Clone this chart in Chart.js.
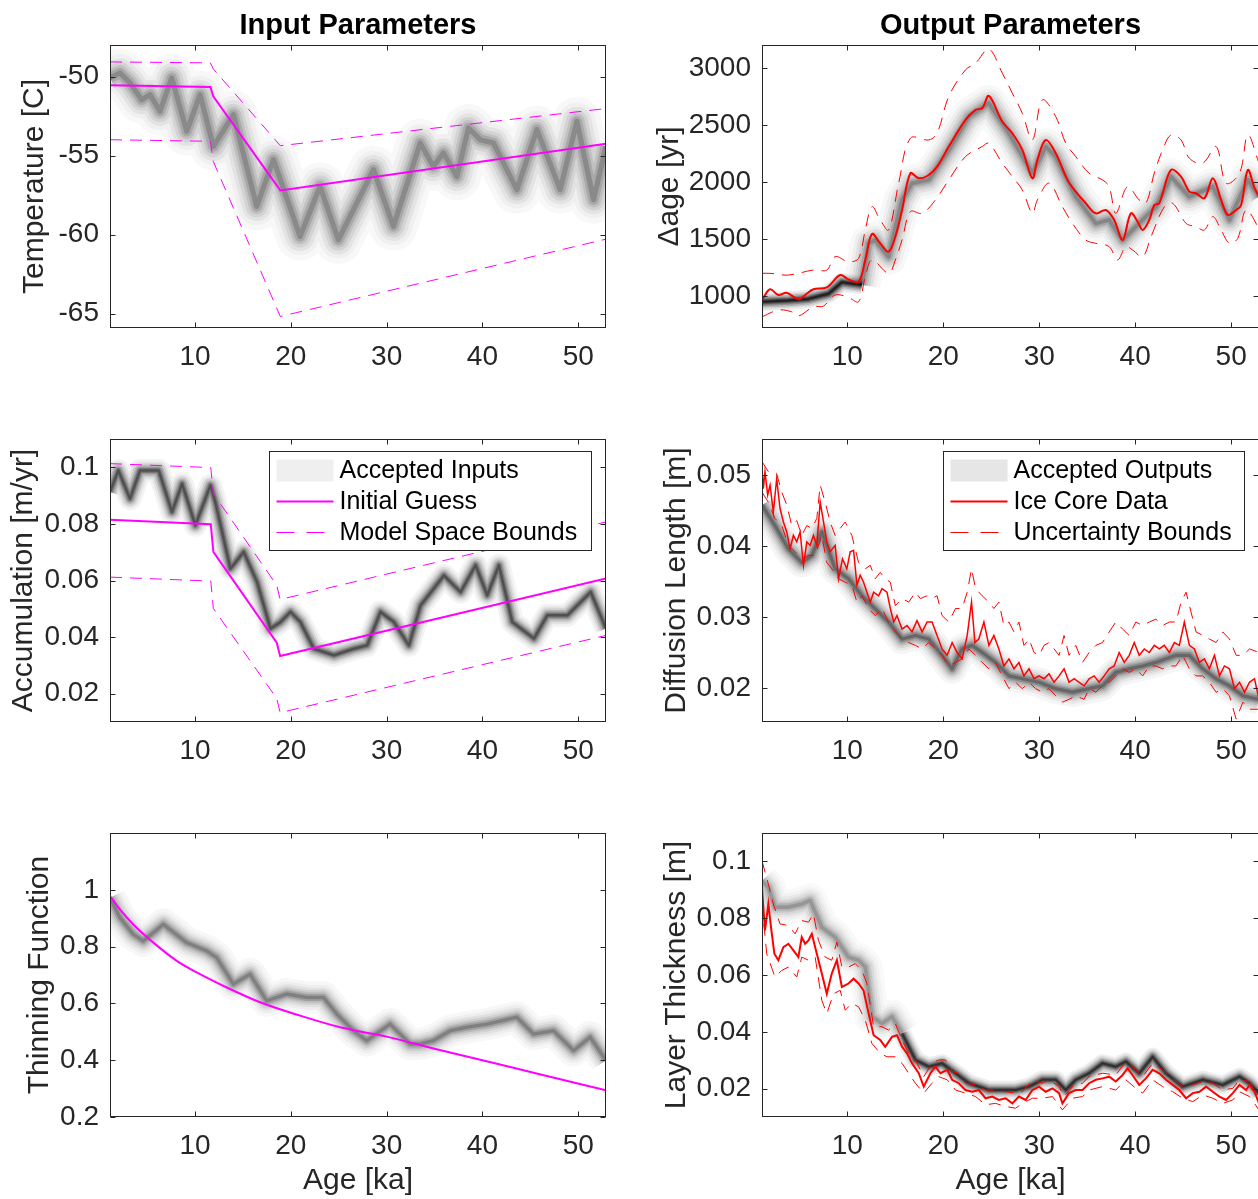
<!DOCTYPE html>
<html>
<head>
<meta charset="utf-8">
<script src="https://cdn.jsdelivr.net/npm/chart.js@4.4.1/dist/chart.umd.min.js"></script>
<style>
  html, body { margin: 0; padding: 0; background: #fff; overflow: hidden; width: 1258px; height: 1199px; }
  canvas { position: absolute; }
</style>
</head>
<body>
<canvas id="cTemp" width="625" height="388" style="left:0;top:0"></canvas>
<canvas id="cDage" width="625" height="388" style="left:640px;top:0"></canvas>
<canvas id="cAcc" width="625" height="388" style="left:0;top:394px"></canvas>
<canvas id="cDiff" width="625" height="388" style="left:640px;top:394px"></canvas>
<canvas id="cThin" width="625" height="411" style="left:0;top:788px"></canvas>
<canvas id="cLt" width="625" height="411" style="left:640px;top:788px"></canvas>
<script>
// ---------- data (age in ka, value) ----------
const ageTicks = [10, 20, 30, 40, 50];

// Temperature [C]
const tempTicks = [-65, -60, -55, -50];
const tempBand = [[1.12,-50.08],[2.16,-49.77],[3.21,-50.40],[4.43,-51.46],[5.30,-51.14],[6.34,-52.19],[7.56,-50.08],[9.13,-53.46],[10.52,-51.14],[11.91,-54.41],[14.0,-52.41],[16.44,-58.21],[18.18,-55.25],[20.96,-60.11],[23.05,-56.94],[24.96,-60.32],[28.62,-55.89],[30.71,-59.47],[33.5,-54.2],[34.88,-55.68],[35.93,-54.83],[37.33,-56.31],[38.54,-53.25],[39.76,-53.99],[41.15,-54.2],[43.6,-57.15],[45.68,-53.35],[48.12,-57.15],[49.86,-52.83],[51.6,-57.78],[52.9,-54.41]];
const tempGuess = [[1.12,-50.55],[11.6,-50.65],[11.9,-51.25],[18.9,-57.2],[52.9,-54.25]];
const tempUpper = [[1.12,-49.07],[11.6,-49.13],[11.9,-49.51],[18.9,-54.37],[52.9,-52.02]];
const tempLower = [[1.12,-53.99],[11.6,-54.09],[11.9,-55.36],[18.9,-65.17],[52.9,-60.28]];

// Accumulation [m/yr]
const accTicks = [0.02, 0.04, 0.06, 0.08, 0.1];
const accBand = [[1.12,0.0913],[1.99,0.0989],[3.21,0.0889],[4.25,0.0989],[6.2,0.0989],[7.59,0.0842],[8.64,0.0942],[10.03,0.0795],[11.6,0.0936],[12.12,0.0877],[13.69,0.0642],[15.08,0.0701],[16.47,0.0595],[17.87,0.0430],[18.91,0.0453],[19.96,0.0489],[21.0,0.0453],[22.4,0.0359],[24.49,0.0336],[26.58,0.0359],[27.97,0.0371],[29.36,0.0489],[30.76,0.0453],[32.32,0.0371],[33.54,0.0512],[35.98,0.0618],[37.72,0.0559],[39.29,0.0654],[40.5,0.0548],[41.72,0.0654],[43.12,0.0453],[45.38,0.0395],[46.77,0.0477],[48.86,0.0477],[51.3,0.0559],[52.9,0.0430]];
const accGuess = [[1.12,0.0815],[11.64,0.0799],[11.91,0.0701],[18.53,0.0380],[18.88,0.0333],[52.9,0.0607]];
const accUpper = [[1.12,0.1013],[11.64,0.0999],[11.91,0.0907],[18.53,0.0583],[18.88,0.0533],[52.9,0.0807]];
const accLower = [[1.12,0.0612],[11.64,0.0598],[11.91,0.0501],[18.53,0.0183],[18.88,0.0133],[52.9,0.0406]];

// Thinning function
const thinTicks = [0.2, 0.4, 0.6, 0.8, 1];
const thinBand = [[1.12,0.972],[2.16,0.902],[3.56,0.843],[4.60,0.820],[6.69,0.878],[9.13,0.814],[11.21,0.785],[12.26,0.761],[14.0,0.668],[15.74,0.703],[17.48,0.609],[19.57,0.633],[21.66,0.621],[23.4,0.621],[24.79,0.563],[26.53,0.504],[27.92,0.469],[30.36,0.527],[32.45,0.457],[33.49,0.457],[34.89,0.469],[36.63,0.504],[38.37,0.516],[40.46,0.527],[43.59,0.551],[45.33,0.492],[47.42,0.504],[49.51,0.434],[51.25,0.481],[52.9,0.399]];
const thinGuess = [[1.12,0.978],[2.16,0.931],[3.56,0.878],[5.65,0.814],[8.09,0.750],[10.52,0.703],[13.31,0.656],[16.79,0.604],[20.96,0.557],[25.14,0.516],[30.01,0.483],[34.89,0.441],[40.11,0.399],[45.33,0.356],[52.9,0.294]];

// Delta age [yr]
const dageTicks = [1000, 1500, 2000, 2500, 3000];
const dageBandEarly = [[1.12,950],[3.87,960],[5.96,975],[8.05,1020],[9.44,1120],[11.53,1096]];
const dageBandLate = [[11.53,1096],[12.23,1462],[12.92,1491],[14.31,1345],[15.71,1842],[16.75,1989],[18.49,2018],[20.58,2281],[22.67,2573],[24.76,2690],[26.85,2427],[29.29,2076],[30.68,2310],[31.72,2222],[33.81,1871],[35.9,1637],[37.29,1667],[38.69,1491],[40.07,1608],[42.16,1783],[43.73,2047],[45.64,1871],[48.09,1959],[49.82,1667],[51.74,2018],[52.9,1871]];
const dageCore = [[1.12,965],[1.96,1059],[2.82,1009],[3.70,1029],[4.91,971],[5.61,1009],[6.48,1059],[7.87,1076],[9.27,1184],[10.13,1146],[11.18,1125],[11.88,1316],[12.58,1544],[13.44,1462],[14.31,1389],[15.01,1520],[15.71,1754],[16.58,2076],[17.45,2032],[18.49,2061],[19.36,2134],[20.58,2310],[22.32,2544],[23.37,2632],[24.06,2646],[24.76,2754],[26.15,2529],[27.2,2427],[28.24,2281],[29.29,2032],[29.81,2193],[30.68,2368],[31.72,2252],[32.94,2018],[33.81,1915],[34.85,1813],[35.9,1725],[36.94,1754],[37.81,1667],[38.69,1491],[39.55,1725],[40.25,1652],[40.78,1579],[41.47,1667],[41.99,1798],[42.51,1813],[43.73,2105],[44.78,2047],[45.64,1915],[46.34,1901],[47.21,1857],[48.09,2032],[48.95,1842],[49.65,1711],[50.52,1754],[51.04,1798],[51.74,2105],[52.44,1945],[52.9,1871]];
const dageUpper = [[1.12,1199],[1.96,1199],[3.87,1184],[6.48,1228],[7.87,1228],[8.74,1345],[10.13,1301],[11.18,1330],[11.88,1579],[12.58,1783],[13.44,1667],[14.31,1579],[15.36,1989],[16.58,2383],[18.49,2368],[19.36,2427],[20.58,2749],[22.32,2982],[23.37,3041],[24.76,3164],[26.15,2954],[27.2,2778],[28.24,2602],[29.29,2368],[30.33,2719],[31.72,2573],[32.77,2339],[33.81,2222],[35.2,2076],[36.59,2018],[37.29,1959],[37.98,1725],[39.2,1959],[40.42,1842],[41.12,1813],[41.99,2076],[42.86,2281],[43.73,2412],[44.78,2368],[45.64,2208],[47.04,2164],[48.43,2310],[49.47,1989],[50.87,2076],[51.74,2412],[52.9,2164]];
const dageLower = [[1.12,818],[2.82,877],[4.22,862],[4.91,825],[6.48,906],[7.52,912],[8.74,1009],[10.13,988],[11.18,950],[11.88,1169],[12.58,1316],[14.31,1199],[15.01,1316],[15.71,1491],[16.58,1740],[17.8,1725],[19.19,1842],[20.58,2018],[22.32,2222],[24.06,2310],[24.76,2339],[26.15,2164],[27.2,2047],[28.24,1930],[29.29,1725],[29.81,1842],[31.03,1989],[32.42,1783],[33.46,1637],[34.85,1491],[35.9,1462],[37.29,1433],[38.16,1316],[39.03,1433],[39.72,1404],[40.78,1345],[41.65,1520],[43.04,1783],[43.91,1813],[45.3,1637],[46.34,1608],[47.21,1579],[48.09,1696],[48.95,1579],[49.82,1462],[50.69,1506],[51.56,1754],[52.9,1594]];

// Diffusion length [m]
const diffTicks = [0.02, 0.03, 0.04, 0.05];
const diffBand = [[1.12,0.0458],[2.47,0.0429],[3.87,0.0396],[5.26,0.0377],[6.31,0.0387],[7.35,0.0420],[8.74,0.0368],[10.13,0.0354],[11.53,0.0330],[12.57,0.0316],[14.31,0.0293],[15.71,0.0269],[17.10,0.0274],[18.49,0.0269],[19.88,0.0246],[20.93,0.0227],[21.97,0.0255],[23.02,0.0260],[24.06,0.0250],[25.45,0.0236],[26.85,0.0217],[28.24,0.0213],[29.98,0.0208],[31.72,0.0199],[33.46,0.0194],[35.2,0.0199],[36.59,0.0203],[37.98,0.0222],[39.38,0.0227],[40.78,0.0231],[42.16,0.0236],[44.25,0.0246],[45.65,0.0246],[47.04,0.0227],[48.43,0.0213],[49.82,0.0203],[51.22,0.0189],[52.9,0.0184]];
const diffCore = [[1.12,0.0509],[1.26,0.0481],[1.43,0.0505],[1.71,0.0472],[1.96,0.0486],[2.30,0.0448],[2.65,0.0495],[3.00,0.0453],[3.35,0.0434],[3.70,0.0420],[4.04,0.0396],[4.39,0.0415],[4.74,0.0406],[5.09,0.0420],[5.44,0.0373],[5.79,0.0406],[6.13,0.0401],[6.48,0.0415],[6.83,0.0401],[7.18,0.0462],[7.53,0.0434],[7.87,0.0406],[8.22,0.0392],[8.74,0.0401],[9.09,0.0354],[9.51,0.0382],[9.96,0.0368],[10.31,0.0392],[10.66,0.0394],[11.01,0.0345],[11.35,0.0359],[11.70,0.0349],[12.05,0.0335],[12.40,0.0321],[12.75,0.0335],[13.27,0.0330],[13.62,0.0340],[14.14,0.0335],[14.49,0.0312],[14.84,0.0293],[15.18,0.0302],[15.71,0.0283],[16.23,0.0288],[16.75,0.0279],[17.27,0.0295],[17.80,0.0279],[18.32,0.0293],[18.84,0.0293],[19.36,0.0274],[19.88,0.0255],[20.41,0.0246],[20.93,0.0264],[21.45,0.0250],[21.97,0.0241],[22.5,0.0274],[22.95,0.0321],[23.3,0.0264],[23.71,0.0269],[24.24,0.0293],[24.76,0.0260],[25.28,0.0274],[25.80,0.0255],[26.32,0.0231],[26.85,0.0241],[27.37,0.0227],[27.89,0.0236],[28.41,0.0217],[28.94,0.0227],[29.46,0.0213],[29.98,0.0217],[30.5,0.0213],[31.02,0.0220],[31.55,0.0208],[32.07,0.0217],[32.59,0.0227],[33.11,0.0208],[33.64,0.0213],[34.16,0.0208],[34.68,0.0203],[35.2,0.0213],[35.72,0.0217],[36.25,0.0208],[36.77,0.0217],[37.29,0.0227],[37.81,0.0231],[38.33,0.0250],[38.86,0.0236],[39.38,0.0246],[39.9,0.0264],[40.42,0.0246],[40.95,0.0255],[41.47,0.0250],[41.99,0.0260],[42.51,0.0255],[43.03,0.0260],[43.56,0.0250],[44.08,0.0264],[44.6,0.0260],[45.12,0.0293],[45.65,0.0260],[46.17,0.0255],[46.69,0.0236],[47.21,0.0241],[47.73,0.0227],[48.26,0.0246],[48.78,0.0217],[49.3,0.0231],[49.82,0.0227],[50.35,0.0199],[50.87,0.0208],[51.39,0.0194],[51.91,0.0208],[52.43,0.0213],[52.9,0.0184]];
const diffUpper = [[1.12,0.0519],[1.78,0.0505],[2.65,0.0502],[3.18,0.0476],[3.70,0.0458],[4.22,0.0429],[4.74,0.0436],[5.26,0.0415],[5.79,0.0429],[6.31,0.0425],[6.83,0.0439],[7.18,0.0486],[7.70,0.0462],[8.22,0.0434],[8.74,0.0415],[9.27,0.0425],[9.79,0.0434],[10.48,0.0415],[11.18,0.0377],[11.88,0.0368],[12.40,0.0373],[12.92,0.0354],[13.44,0.0363],[13.96,0.0354],[14.49,0.0349],[15.01,0.0316],[15.71,0.0326],[16.41,0.0321],[17.10,0.0335],[17.62,0.0326],[18.32,0.0330],[18.84,0.0326],[19.36,0.0330],[19.88,0.0302],[20.58,0.0293],[21.28,0.0312],[21.97,0.0312],[22.5,0.0335],[22.95,0.0368],[23.37,0.0340],[24.06,0.0330],[24.76,0.0321],[25.28,0.0312],[25.80,0.0321],[26.32,0.0288],[26.85,0.0293],[27.37,0.0279],[27.89,0.0293],[28.41,0.0260],[28.94,0.0269],[29.46,0.0250],[29.98,0.0246],[30.5,0.0260],[31.02,0.0264],[31.55,0.0255],[32.07,0.0246],[32.59,0.0274],[33.11,0.0246],[33.81,0.0260],[34.51,0.0236],[35.2,0.0250],[35.9,0.0260],[36.59,0.0264],[37.29,0.0279],[37.98,0.0293],[38.69,0.0283],[39.38,0.0274],[40.07,0.0293],[40.78,0.0288],[41.47,0.0293],[42.16,0.0297],[42.86,0.0288],[43.56,0.0293],[44.25,0.0293],[44.78,0.0321],[45.3,0.0335],[45.82,0.0307],[46.34,0.0279],[47.04,0.0274],[47.73,0.0269],[48.43,0.0264],[49.13,0.0279],[49.82,0.0269],[50.52,0.0246],[51.22,0.0246],[51.91,0.0255],[52.9,0.0250]];
const diffLower = [[1.12,0.0476],[1.78,0.0462],[2.47,0.0439],[3.18,0.0429],[3.87,0.0401],[4.57,0.0392],[5.26,0.0382],[5.96,0.0387],[6.66,0.0387],[7.35,0.0415],[7.87,0.0377],[8.39,0.0368],[9.09,0.0354],[9.79,0.0349],[10.48,0.0345],[11.01,0.0321],[11.53,0.0330],[12.23,0.0312],[12.92,0.0302],[13.62,0.0312],[14.31,0.0293],[15.01,0.0279],[15.71,0.0269],[16.41,0.0264],[17.10,0.0260],[17.8,0.0255],[18.49,0.0264],[19.19,0.0255],[19.88,0.0246],[20.58,0.0231],[21.28,0.0236],[21.97,0.0241],[22.67,0.0255],[23.37,0.0246],[24.06,0.0236],[24.76,0.0227],[25.45,0.0236],[26.15,0.0217],[26.85,0.0199],[27.54,0.0208],[28.24,0.0199],[28.94,0.0208],[29.63,0.0199],[30.33,0.0194],[31.02,0.0199],[31.72,0.0189],[32.42,0.0180],[33.11,0.0184],[33.81,0.0189],[34.68,0.0184],[35.2,0.0199],[35.9,0.0194],[36.59,0.0203],[37.29,0.0208],[37.98,0.0217],[38.69,0.0227],[39.38,0.0222],[40.07,0.0227],[40.78,0.0217],[41.47,0.0231],[42.16,0.0231],[42.86,0.0227],[43.56,0.0231],[44.25,0.0231],[44.95,0.0246],[45.65,0.0227],[46.34,0.0217],[47.04,0.0217],[47.73,0.0208],[48.43,0.0194],[49.13,0.0199],[49.82,0.0189],[50.52,0.0156],[51.22,0.0180],[51.91,0.0170],[52.9,0.0170]];

// Layer thickness [m]
const ltTicks = [0.02, 0.04, 0.06, 0.08, 0.1];
const ltBandEarly = [[1.12,0.0932],[1.78,0.0909],[2.47,0.0839],[3.87,0.0839],[5.26,0.0850],[6.13,0.0862],[7.35,0.0768],[8.74,0.0733],[10.13,0.0663],[11.18,0.0652],[11.88,0.0628],[12.57,0.0453],[13.62,0.0429],[14.66,0.0453],[15.71,0.0394]];
const ltBandLate = [[15.71,0.0394],[17.10,0.0301],[18.49,0.0277],[19.88,0.0289],[21.28,0.0254],[22.67,0.0219],[24.76,0.0195],[27.54,0.0195],[28.94,0.0207],[30.33,0.0231],[31.72,0.0231],[32.77,0.0195],[33.81,0.0231],[35.2,0.0254],[36.59,0.0289],[37.98,0.0277],[39.03,0.0295],[40.42,0.0254],[41.82,0.0312],[43.21,0.0254],[44.95,0.0207],[47.04,0.0231],[49.13,0.0213],[50.87,0.0242],[51.91,0.0219],[52.9,0.0184]];
const ltCore = [[1.12,0.0909],[1.43,0.0757],[1.78,0.0850],[2.06,0.0768],[2.41,0.0675],[2.82,0.0652],[3.35,0.0698],[3.87,0.0710],[4.39,0.0687],[4.91,0.0663],[5.26,0.0733],[5.61,0.0710],[5.96,0.0722],[6.31,0.0745],[6.83,0.0675],[7.35,0.0605],[7.87,0.0534],[8.39,0.0605],[8.92,0.0652],[9.44,0.0558],[10.13,0.0570],[10.66,0.0587],[11.18,0.0570],[11.70,0.0546],[12.23,0.0464],[12.75,0.0388],[13.44,0.0371],[13.96,0.0347],[14.66,0.0382],[15.18,0.0388],[15.71,0.0347],[16.23,0.0324],[16.75,0.0289],[17.45,0.0254],[17.97,0.0207],[18.67,0.0254],[19.19,0.0277],[19.71,0.0254],[20.41,0.0266],[20.93,0.0231],[21.62,0.0219],[22.32,0.0195],[23.02,0.0189],[23.71,0.0195],[24.41,0.0166],[25.11,0.0172],[25.80,0.0160],[26.50,0.0166],[27.20,0.0148],[27.89,0.0172],[28.59,0.0160],[29.29,0.0195],[29.98,0.0207],[30.68,0.0189],[31.38,0.0201],[32.07,0.0184],[32.42,0.0148],[33.11,0.0184],[33.81,0.0195],[34.51,0.0195],[35.2,0.0219],[35.9,0.0231],[36.59,0.0236],[37.29,0.0242],[37.98,0.0225],[38.69,0.0248],[39.2,0.0271],[39.72,0.0248],[40.42,0.0213],[41.12,0.0236],[41.82,0.0266],[42.51,0.0254],[43.21,0.0231],[43.91,0.0213],[44.6,0.0195],[45.3,0.0166],[46.0,0.0184],[46.69,0.0189],[47.39,0.0207],[48.09,0.0189],[48.78,0.0172],[49.47,0.0160],[50.17,0.0184],[50.87,0.0213],[51.56,0.0195],[51.91,0.0213],[52.43,0.0189],[52.9,0.0148]];
const ltUpper = [[1.12,0.1002],[1.78,0.0920],[2.30,0.0850],[3.00,0.0780],[3.87,0.0774],[4.57,0.0745],[5.26,0.0792],[5.96,0.0786],[6.48,0.0815],[7.0,0.0722],[7.70,0.0663],[8.39,0.0652],[8.92,0.0716],[9.44,0.0628],[10.13,0.0628],[10.83,0.0640],[11.53,0.0616],[12.05,0.0570],[12.75,0.0418],[13.62,0.0418],[14.31,0.0406],[15.01,0.0429],[15.71,0.0371],[16.41,0.0324],[17.10,0.0301],[17.97,0.0242],[18.84,0.0289],[19.54,0.0301],[20.23,0.0301],[20.93,0.0260],[21.62,0.0254],[22.32,0.0219],[23.37,0.0213],[24.41,0.0195],[25.45,0.0195],[26.50,0.0189],[27.54,0.0184],[28.24,0.0189],[29.29,0.0231],[30.33,0.0219],[31.03,0.0231],[32.07,0.0207],[32.59,0.0172],[33.46,0.0207],[34.51,0.0219],[35.2,0.0242],[36.59,0.0254],[37.98,0.0248],[39.03,0.0295],[39.72,0.0277],[40.77,0.0242],[41.82,0.0289],[42.86,0.0266],[43.91,0.0236],[44.95,0.0207],[46.0,0.0213],[47.04,0.0225],[48.09,0.0219],[49.13,0.0195],[50.17,0.0201],[50.87,0.0231],[51.91,0.0225],[52.9,0.0172]];
const ltLower = [[1.12,0.0850],[1.61,0.0675],[2.47,0.0593],[3.18,0.0616],[3.87,0.0628],[4.74,0.0593],[5.26,0.0663],[5.96,0.0652],[6.66,0.0663],[7.35,0.0511],[7.87,0.0464],[8.57,0.0534],[9.27,0.0546],[9.79,0.0476],[10.48,0.0500],[11.18,0.0488],[11.88,0.0441],[12.57,0.0359],[13.44,0.0324],[14.14,0.0312],[15.01,0.0312],[15.71,0.0289],[16.41,0.0254],[17.10,0.0219],[17.97,0.0184],[18.84,0.0219],[19.54,0.0242],[20.41,0.0231],[21.28,0.0195],[22.32,0.0184],[23.37,0.0172],[24.41,0.0143],[25.45,0.0148],[26.50,0.0137],[27.54,0.0131],[28.24,0.0148],[29.29,0.0166],[30.33,0.0166],[31.38,0.0172],[32.42,0.0125],[33.46,0.0166],[34.51,0.0172],[35.2,0.0195],[36.59,0.0207],[37.98,0.0195],[39.03,0.0231],[40.07,0.0201],[40.77,0.0184],[41.82,0.0231],[42.86,0.0207],[43.91,0.0189],[44.95,0.0166],[46.0,0.0154],[47.04,0.0178],[48.09,0.0166],[49.13,0.0148],[50.17,0.0160],[50.87,0.0189],[51.91,0.0172],[52.9,0.0125]];

const inputLegend = ['Accepted Inputs', 'Initial Guess', 'Model Space Bounds'];
const outputLegend = ['Accepted Outputs', 'Ice Core Data', 'Uncertainty Bounds'];

// ---------- styling ----------
const FONT = '"Liberation Sans", Arial, Helvetica, sans-serif';
const AXIS_COLOR = '#262626';
const MAGENTA = '#ff00ff';
const RED = '#ff0000';
const AGE_MIN = 1.12, AGE_MAX = 52.9;
const BAND_W = [46, 36, 28, 21, 15, 10, 5];
const BAND_A = [0.03, 0.04, 0.06, 0.08, 0.1, 0.14, 0.2];

function pts(arr) { return arr.map(p => ({ x: p[0], y: p[1] })); }

// soft grey band built from stacked translucent strokes
function bandSets(arr, scale, strength) {
  return BAND_W.map((w, i) => ({
    data: pts(arr),
    borderColor: 'rgba(0,0,0,' + Math.min(0.9, BAND_A[i] * strength).toFixed(3) + ')',
    borderWidth: Math.max(2, w * scale),
    borderJoinStyle: 'round',
    pointRadius: 0,
    tension: 0,
    order: 20 - i
  }));
}

function lineSet(arr, color, width, dash, tension) {
  return {
    data: pts(arr),
    borderColor: color,
    borderWidth: width,
    borderDash: dash || [],
    pointRadius: 0,
    tension: tension || 0,
    order: 1
  };
}

// box around the axes with inward ticks on all sides
const boxPlugin = {
  id: 'matlabBox',
  afterDatasetsDraw(chart) {
    const { ctx, chartArea: a, scales } = chart;
    const L = Math.round(a.left) + 0.5, R = Math.round(a.right) - 0.5;
    const T = Math.round(a.top) + 0.5, B = Math.round(a.bottom) - 0.5;
    ctx.save();
    ctx.strokeStyle = AXIS_COLOR;
    ctx.lineWidth = 1;
    ctx.strokeRect(L, T, R - L, B - T);
    ctx.beginPath();
    scales.x.ticks.forEach(t => {
      const px = Math.round(scales.x.getPixelForValue(t.value)) + 0.5;
      ctx.moveTo(px, B); ctx.lineTo(px, B - 5);
      ctx.moveTo(px, T); ctx.lineTo(px, T + 5);
    });
    scales.y.ticks.forEach(t => {
      const py = Math.round(scales.y.getPixelForValue(t.value)) + 0.5;
      ctx.moveTo(L, py); ctx.lineTo(L + 5, py);
      ctx.moveTo(R, py); ctx.lineTo(R - 5, py);
    });
    ctx.stroke();
    ctx.restore();
  }
};

const titlePlugin = {
  id: 'panelTitle',
  afterDraw(chart, args, opts) {
    if (!opts.text) return;
    const { ctx, chartArea: a } = chart;
    ctx.save();
    ctx.fillStyle = '#000';
    ctx.font = 'bold 29px ' + FONT;
    ctx.textAlign = 'center';
    ctx.textBaseline = 'middle';
    ctx.fillText(opts.text, (a.left + a.right) / 2, a.top - 19);
    ctx.restore();
  }
};

const legendPlugin = {
  id: 'boxLegend',
  afterDraw(chart, args, opts) {
    if (!opts.items) return;
    const { ctx, chartArea: a } = chart;
    const x0 = Math.round(a.left + opts.dx) + 0.5, y0 = Math.round(a.top + opts.dy) + 0.5;
    ctx.save();
    ctx.fillStyle = '#fff';
    ctx.fillRect(x0, y0, opts.w, opts.h);
    ctx.strokeStyle = AXIS_COLOR;
    ctx.lineWidth = 1;
    ctx.strokeRect(x0, y0, opts.w, opts.h);
    ctx.font = '25px ' + FONT;
    ctx.textBaseline = 'middle';
    opts.items.forEach((it, i) => {
      const cy = y0 + 19 + i * 31;
      const sx0 = x0 + 7, sx1 = x0 + 64;
      if (it.kind === 'band') {
        ctx.fillStyle = it.color;
        ctx.fillRect(sx0, cy - 11, sx1 - sx0, 22);
      } else {
        ctx.strokeStyle = it.color;
        ctx.lineWidth = it.kind === 'solid' ? 2 : 1;
        ctx.setLineDash(it.kind === 'dash' ? [18, 12] : []);
        ctx.beginPath();
        ctx.moveTo(sx0, cy); ctx.lineTo(sx1, cy);
        ctx.stroke();
        ctx.setLineDash([]);
      }
      ctx.fillStyle = '#000';
      ctx.fillText(it.label, x0 + 70, cy + 1);
    });
    ctx.restore();
  }
};

function makePanel(id, cfg) {
  return new Chart(document.getElementById(id), {
    type: 'line',
    data: { datasets: cfg.datasets },
    options: {
      responsive: false,
      animation: false,
      devicePixelRatio: 1,
      events: [],
      layout: { padding: { top: 45, right: cfg.padRight, bottom: 0, left: 0 } },
      plugins: {
        legend: { display: false },
        tooltip: { enabled: false },
        panelTitle: { text: cfg.title || '' },
        boxLegend: cfg.legend || { items: null }
      },
      scales: {
        x: {
          type: 'linear', min: AGE_MIN, max: AGE_MAX,
          grid: { display: false, drawTicks: false },
          border: { display: false },
          afterBuildTicks: s => { s.ticks = ageTicks.map(v => ({ value: v })); },
          afterFit: s => { s.height = cfg.xHeight; },
          ticks: { autoSkip: false, maxRotation: 0, padding: 12, color: AXIS_COLOR,
                   font: { family: FONT, size: 28 }, callback: v => String(v) },
          title: { display: !!cfg.xTitle, text: cfg.xTitle || '', color: AXIS_COLOR,
                   font: { family: FONT, size: 30 }, padding: { top: 0, bottom: 0 } }
        },
        y: {
          type: 'linear', min: cfg.yMin, max: cfg.yMax,
          grid: { display: false, drawTicks: false },
          border: { display: false },
          afterBuildTicks: s => { s.ticks = cfg.yTicks.map(v => ({ value: v })); },
          afterFit: s => { s.width = cfg.yWidth; },
          ticks: { autoSkip: false, padding: 11, color: AXIS_COLOR,
                   font: { family: FONT, size: 28 }, callback: v => String(v) },
          title: { display: true, text: cfg.yTitle, color: AXIS_COLOR,
                   font: { family: FONT, size: 30 }, padding: { top: cfg.yTitlePad, bottom: 0 } }
        }
      }
    },
    plugins: [boxPlugin, titlePlugin, legendPlugin]
  });
}

const LEFT = { yWidth: 110, padRight: 19 };
const RIGHT = { yWidth: 122, padRight: 6 };
const DASH = [12, 8];

makePanel('cTemp', Object.assign({}, LEFT, {
  title: 'Input Parameters', yTitle: 'Temperature [C]', yTitlePad: 17, xHeight: 60,
  yMin: -65.9, yMax: -48, yTicks: tempTicks,
  datasets: [
    lineSet(tempGuess, MAGENTA, 2),
    lineSet(tempUpper, MAGENTA, 1, DASH),
    lineSet(tempLower, MAGENTA, 1, DASH)
  ].concat(bandSets(tempBand, 1.05, 0.9))
}));

makePanel('cDage', Object.assign({}, RIGHT, {
  title: 'Output Parameters', yTitle: '\u0394age [yr]', yTitlePad: 12, xHeight: 60,
  yMin: 720, yMax: 3200, yTicks: dageTicks,
  datasets: [
    lineSet(dageCore, RED, 2, null, 0.35),
    lineSet(dageUpper, RED, 1, DASH, 0.35),
    lineSet(dageLower, RED, 1, DASH, 0.35)
  ].concat(bandSets(dageBandEarly, 0.4, 2.6), bandSets(dageBandLate, 0.8, 0.95))
}));

makePanel('cAcc', Object.assign({}, LEFT, {
  yTitle: 'Accumulation [m/yr]', yTitlePad: 6, xHeight: 60,
  yMin: 0.01, yMax: 0.11, yTicks: accTicks,
  legend: { dx: 159, dy: 12, w: 322, h: 99, items: [
    { kind: 'band', color: '#efefef', label: inputLegend[0] },
    { kind: 'solid', color: MAGENTA, label: inputLegend[1] },
    { kind: 'dash', color: MAGENTA, label: inputLegend[2] }
  ] },
  datasets: [
    lineSet(accGuess, MAGENTA, 2),
    lineSet(accUpper, MAGENTA, 1, DASH),
    lineSet(accLower, MAGENTA, 1, DASH)
  ].concat(bandSets(accBand, 0.5, 1.6))
}));

makePanel('cDiff', Object.assign({}, RIGHT, {
  yTitle: 'Diffusion Length [m]', yTitlePad: 19, xHeight: 60,
  yMin: 0.0152, yMax: 0.0551, yTicks: diffTicks,
  legend: { dx: 181, dy: 12, w: 301, h: 99, items: [
    { kind: 'band', color: '#e6e6e6', label: outputLegend[0] },
    { kind: 'solid', color: RED, label: outputLegend[1] },
    { kind: 'dash', color: RED, label: outputLegend[2] }
  ] },
  datasets: [
    lineSet(diffCore, RED, 1.5),
    lineSet(diffUpper, RED, 1, DASH),
    lineSet(diffLower, RED, 1, DASH)
  ].concat(bandSets(diffBand, 0.65, 1.3))
}));

makePanel('cThin', Object.assign({}, LEFT, {
  yTitle: 'Thinning Function', yTitlePad: 22, xHeight: 82, xTitle: 'Age [ka]',
  yMin: 0.2, yMax: 1.2, yTicks: thinTicks,
  datasets: [
    Object.assign(lineSet(thinGuess, MAGENTA, 2), { cubicInterpolationMode: 'monotone' })
  ].concat(bandSets(thinBand, 0.7, 1.0))
}));

makePanel('cLt', Object.assign({}, RIGHT, {
  yTitle: 'Layer Thickness [m]', yTitlePad: 19, xHeight: 82, xTitle: 'Age [ka]',
  yMin: 0.01, yMax: 0.11, yTicks: ltTicks,
  datasets: [
    lineSet(ltCore, RED, 2),
    lineSet(ltUpper, RED, 1, DASH),
    lineSet(ltLower, RED, 1, DASH)
  ].concat(bandSets(ltBandEarly, 0.75, 0.8), bandSets(ltBandLate, 0.4, 2.2))
}));
</script>
</body>
</html>
